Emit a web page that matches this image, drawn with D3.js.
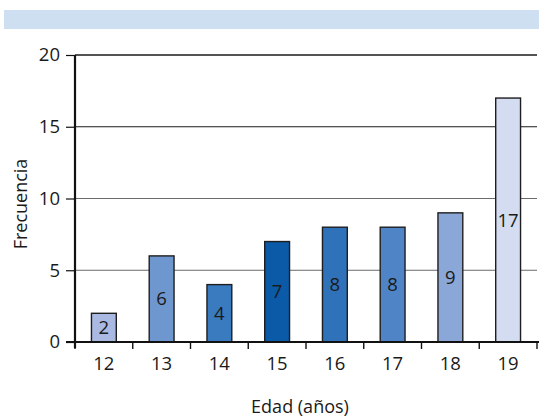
<!DOCTYPE html>
<html>
<head>
<meta charset="utf-8">
<script src="https://cdn.jsdelivr.net/npm/d3@7"></script>
<style>
  html, body { margin: 0; padding: 0; background: #fff; }
  svg { display: block; font-family: "Open Sans", "Lato", sans-serif; font-weight: 400; }
</style>
</head>
<body>
<svg id="chart" width="539" height="419"></svg>
<script>
// Edad (años) vs frecuencia
const ages = ["12", "13", "14", "15", "16", "17", "18", "19"];
const counts = [2, 6, 4, 7, 8, 8, 9, 17];
const barColors = ["#a9b9e1", "#6f97cf", "#3a7bc0", "#0b5aa7", "#2f72b9", "#4f85c7", "#8ba7d8", "#d3dcf0"];
const yTicks = [0, 5, 10, 15, 20];

const svg = d3.select("#chart");
const plot = { left: 75, right: 537, top: 55, bottom: 342 };
const FONT = "'Open Sans', Lato, sans-serif";
const INK = "#1a1a1a";

// header band
svg.append("rect")
  .attr("x", 4).attr("y", 10).attr("width", 535).attr("height", 19)
  .attr("fill", "#cddff0");

const x = d3.scaleBand().domain(ages).range([plot.left, plot.right]).paddingInner(0).paddingOuter(0);
const y = d3.scaleLinear().domain([0, 20]).range([plot.bottom, plot.top]);

// horizontal grid lines
svg.append("g").selectAll("line").data(yTicks.filter(d => d > 0)).join("line")
  .attr("x1", plot.left).attr("x2", plot.right)
  .attr("y1", d => y(d)).attr("y2", d => y(d))
  .attr("stroke", d => d >= 15 ? "#1a1a1a" : "#6a6a6a")
  .attr("stroke-width", d => d === 20 ? 1.4 : 1);

// y axis
const yAxis = d3.axisLeft(y).tickValues(yTicks).tickSize(9).tickPadding(6).tickFormat(d3.format("d"));
const gy = svg.append("g").attr("transform", `translate(${plot.left},0)`).call(yAxis);
gy.select(".domain").remove();
gy.selectAll(".tick line").attr("stroke", "#111").attr("stroke-width", 1.2);
gy.selectAll(".tick text").attr("font-size", 18.5).attr("fill", INK)
  .attr("font-family", FONT).attr("font-weight", 400);

// bars
const barW = x.bandwidth() * 0.43;
svg.append("g").selectAll("rect").data(counts).join("rect")
  .attr("x", (d, i) => x(ages[i]) + (x.bandwidth() - barW) / 2)
  .attr("y", d => y(d))
  .attr("width", barW)
  .attr("height", d => y(0) - y(d))
  .attr("fill", (d, i) => barColors[i])
  .attr("stroke", "#1e1e1e")
  .attr("stroke-width", 1.4);

// value labels inside bars
svg.append("g").selectAll("text").data(counts).join("text")
  .attr("x", (d, i) => x(ages[i]) + x.bandwidth() / 2)
  .attr("y", d => (y(d) + y(0)) / 2)
  .attr("dy", "0.35em")
  .attr("text-anchor", "middle")
  .attr("font-size", 18.5)
  .attr("fill", INK)
  .text(d => d);

// x axis: ticks at category boundaries
const gx = svg.append("g").attr("transform", `translate(0,${plot.bottom})`);
gx.append("line").attr("x1", plot.left - 9).attr("x2", plot.right + 2).attr("y1", 0).attr("y2", 0)
  .attr("stroke", "#111").attr("stroke-width", 2);
const bounds = ages.map(a => x(a)).concat([plot.right]);
gx.selectAll("line.b").data(bounds).join("line").attr("class", "b")
  .attr("x1", d => d).attr("x2", d => d).attr("y1", 0).attr("y2", 7)
  .attr("stroke", "#111").attr("stroke-width", 1.4);
gx.selectAll("text").data(ages).join("text")
  .attr("x", d => x(d) + x.bandwidth() / 2)
  .attr("y", 28)
  .attr("text-anchor", "middle")
  .attr("font-size", 18.5)
  .attr("fill", INK)
  .text(d => d);

// y axis line
svg.append("line").attr("x1", plot.left).attr("x2", plot.left).attr("y1", plot.top).attr("y2", plot.bottom + 6)
  .attr("stroke", "#111").attr("stroke-width", 2.2);

// axis titles
svg.append("text")
  .attr("x", 300).attr("y", 413)
  .attr("text-anchor", "middle").attr("font-size", 18).attr("fill", INK)
  .text("Edad (años)");
svg.append("text")
  .attr("transform", "translate(27,204) rotate(-90)")
  .attr("text-anchor", "middle").attr("font-size", 18).attr("fill", INK)
  .text("Frecuencia");
</script>
</body>
</html>
